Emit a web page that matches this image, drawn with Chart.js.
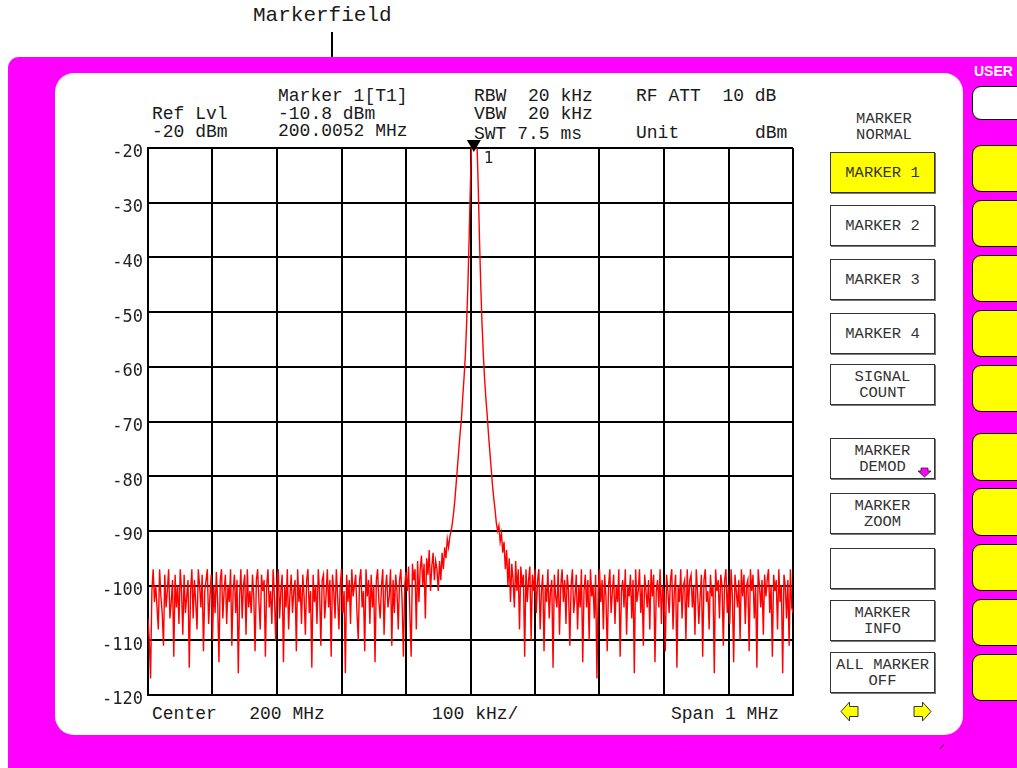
<!DOCTYPE html>
<html>
<head>
<meta charset="utf-8">
<script src="https://cdn.jsdelivr.net/npm/chart.js@4/dist/chart.umd.min.js"></script>
<style>
  html,body{margin:0;padding:0;background:#fff;}
  body{width:1017px;height:768px;position:relative;overflow:hidden;font-family:'Liberation Mono','Courier New',monospace;color:#1a1a1a;}
  .abs{position:absolute;}
  .t{position:absolute;white-space:pre;font-size:18px;line-height:20px;height:20px;}
  #frame{left:8px;top:57px;width:1040px;height:740px;background:#ff00ff;border-radius:11px;}
  #panel{left:55px;top:73px;width:908px;height:662px;background:#fff;border-radius:19px;}
  .key{position:absolute;left:972px;width:60px;background:#ffff00;border:1.5px solid #000;border-radius:9px;box-sizing:border-box;}
  .btn{position:absolute;left:830px;width:105px;border:1px solid #333;box-shadow:1px 1px 0 #777;box-sizing:border-box;background:#fff;
       font-size:15.5px;line-height:16px;text-align:center;display:flex;flex-direction:column;justify-content:center;white-space:pre;color:#333;}
  #c{position:absolute;left:0;top:0;}
</style>
</head>
<body>
<div class="t" style="left:253px;top:5px;font-size:21px;line-height:22px;height:22px;">Markerfield</div>
<div class="abs" style="left:331px;top:32px;width:1.5px;height:25px;background:#000;"></div>

<div id="frame" class="abs"></div>
<div id="panel" class="abs"></div>

<div class="abs" style="left:974px;top:62px;font-family:'Liberation Sans',Arial,sans-serif;font-weight:bold;font-size:14px;line-height:18px;color:#fff;">USER</div>
<div class="key" style="top:86px;height:34px;background:#fff;"></div>
<div class="key" style="top:145px;height:47px;"></div>
<div class="key" style="top:200px;height:47px;"></div>
<div class="key" style="top:255px;height:47px;"></div>
<div class="key" style="top:310px;height:47px;"></div>
<div class="key" style="top:365px;height:47px;"></div>
<div class="key" style="top:433px;height:48px;"></div>
<div class="key" style="top:488px;height:48px;"></div>
<div class="key" style="top:544px;height:47px;"></div>
<div class="key" style="top:599px;height:47px;"></div>
<div class="key" style="top:654px;height:47px;"></div>

<!-- header texts -->
<div class="t" style="left:152px;top:104px;">Ref Lvl</div>
<div class="t" style="left:152px;top:122px;">-20 dBm</div>
<div class="t" style="left:278px;top:86px;">Marker 1[T1]</div>
<div class="t" style="left:278px;top:104px;">-10.8 dBm</div>
<div class="t" style="left:278px;top:121px;">200.0052 MHz</div>
<div class="t" style="left:474px;top:86px;">RBW  20 kHz</div>
<div class="t" style="left:474px;top:104px;">VBW  20 kHz</div>
<div class="t" style="left:474px;top:124px;">SWT 7.5 ms</div>
<div class="t" style="left:636px;top:86px;">RF ATT  10 dB</div>
<div class="t" style="left:636px;top:123px;">Unit</div>
<div class="t" style="left:755px;top:123px;">dBm</div>

<!-- footer texts -->
<div class="t" style="left:152px;top:704px;">Center   200 MHz</div>
<div class="t" style="left:432px;top:704px;">100 kHz/</div>
<div class="t" style="left:671px;top:704px;">Span 1 MHz</div>

<!-- softkey menu -->
<div class="abs" style="left:830px;top:111px;width:108px;text-align:center;font-size:15.5px;line-height:16px;white-space:pre;color:#333;">MARKER
NORMAL</div>
<div class="btn" style="top:152px;height:41px;background:#ffff00;">MARKER 1</div>
<div class="btn" style="top:205px;height:41px;">MARKER 2</div>
<div class="btn" style="top:259px;height:41px;">MARKER 3</div>
<div class="btn" style="top:313px;height:41px;">MARKER 4</div>
<div class="btn" style="top:364px;height:41px;">SIGNAL
COUNT</div>
<div class="btn" style="top:438px;height:41px;">MARKER
DEMOD</div>
<div class="btn" style="top:493px;height:41px;">MARKER
ZOOM</div>
<div class="btn" style="top:548px;height:41px;"></div>
<div class="btn" style="top:600px;height:41px;">MARKER
INFO</div>
<div class="btn" style="top:652px;height:41px;">ALL MARKER
OFF</div>

<svg class="abs" style="left:0;top:0;" width="1017" height="768">
  <polygon points="921,468 928,468 928,471 931,471 924.5,477 918,471 921,471" fill="#ff00ff" stroke="#222" stroke-width="0.8"/>
  <polygon points="841,711.5 849.5,702 849.5,706.5 858,706.5 858,716.5 849.5,716.5 849.5,721" fill="#ffff00" stroke="#333" stroke-width="1"/>
  <polygon points="931,711.5 922.5,702 922.5,706.5 914,706.5 914,716.5 922.5,716.5 922.5,721" fill="#ffff00" stroke="#333" stroke-width="1"/>
  <path d="M939.5,748.5 Q942.5,747.5 943.5,744.5" fill="none" stroke="#222" stroke-width="1"/>
</svg>

<canvas id="c" width="1017" height="768"></canvas>

<script>
// ---- data ----
const startMHz = 199.5;
const stopMHz = 200.5;
const xTickMHz = [199.5, 199.6, 199.7, 199.8, 199.9, 200.0, 200.1, 200.2, 200.3, 200.4, 200.5];
const yTickDbm = [-120, -110, -100, -90, -80, -70, -60, -50, -40, -30, -20];
const refLevelDbm = -20;
const bottomDbm = -120;
const markerMHz = 200.0052;
const markerLabel = '1';

// trace levels (dBm), 501 sweep points from startMHz to stopMHz
const levelDbm = [
 -106,-110,-117,-101,-97,-103,-100,-104,-108,-97,-102,-105,-111,-98,-104,-101,-97,-106,-103,-99,
 -113,-98,-104,-100,-107,-97,-101,-109,-98,-105,-102,-99,-115,-101,-97,-106,-99,-103,-108,-97,
 -100,-104,-98,-112,-101,-99,-97,-107,-102,-98,-110,-100,-105,-97.5,-103,-114,-99,-97,-106,-101,
 -98,-107,-100,-103,-97,-111,-101,-98,-105,-99,-116,-102,-97,-106,-100,-98,-109,-97,-104,-101,
 -105,-98,-102,-112,-99,-97,-103,-108,-98,-101,-99,-113,-100,-97,-104,-101,-107,-97,-102,-110,
 -99,-97,-106,-101,-98,-114,-100,-104,-97,-108,-102,-98,-105,-101,-99,-112,-97,-103,-100,-107,
 -98,-102,-109,-99,-97,-105,-101,-115,-98,-103,-100,-107,-97,-101,-111,-99,-98,-106,-102,-97,
 -104,-99,-113,-98,-101,-106,-97,-102,-108,-100,-97,-105,-101,-116,-98,-103,-99,-107,-97,-102,
 -100,-98,-105,-110,-99,-97,-104,-101,-112,-97,-102,-99,-107,-98,-104,-100,-114,-99,-97,-103,
 -106,-100,-97,-109,-101,-98,-104,-102,-97,-111,-99,-105,-98,-101,-108,-99,-97,-103,-113,-100,
 -97.5,-101,-96.5,-105,-113,-96,-99,-97,-108,-95.5,-103,-97,-94.5,-100,-96,-106,-95,-98,-93.5,-101,-96.5,-94,-99,-95.5,-97,
 -101,-95.5,-99,-94,-97,-93,-95,-91.5,-93,-91,-90,-88.5,-86.5,-84,-81,-78,-75,-72,-69.5,-65.5,-62,-58,-52,-45,-36,-26,-18,-13,
 -10.8,
 -13.5,-19,-27,-37,-45.5,-52.5,-58,-62.5,-66,-69,-72.5,-75.5,-78.5,-81.5,-84,-86,-88.5,-90,-89,-92,-90.5,-94,-92,-97,-93.5,-100,-95,-103,
 -96,-99,-104,-95.5,-101,-97,-108,-96.5,-100,-98,-113,-97,-103,-99,-96.5,-110,-98,-101,-97,
 -105,-99,-97,-108,-101,-98,-112,-100,-103,-97,-106,-101,-99,-115,-98,-102,-104,-97,-109,-100,
 -97,-103,-99,-107,-98,-101,-111,-100,-97,-105,-102,-98,-108,-100,-104,-97,-114,-101,-98,-104,
 -99,-110,-97,-102,-100,-106,-98,-117,-101,-97,-103,-99,-108,-98,-102,-112,-100,-97,-105,-101,
 -98,-107,-100,-103,-97,-113,-101,-99,-104,-97,-109,-100,-102,-98,-106,-99,-116,-97,-103,-101,
 -97,-105,-100,-111,-98,-101,-104,-99,-108,-97,-102,-98,-114,-101,-99,-104,-97,-107,-100,-102,
 -112,-98,-101,-105,-99,-97,-108,-101,-98,-115,-100,-103,-97,-106,-100,-99,-110,-97,-104,-99,
 -98,-104,-100,-109,-97,-101,-107,-102,-98,-113,-99,-97,-103,-101,-108,-98,-102,-100,-116,-97,
 -101,-99,-106,-98,-100,-111,-99,-97,-105,-100,-107,-97,-102,-114,-98,-101,-104,-99,-110,-97,
 -102,-98,-107,-100,-99,-112,-97,-101,-98,-106,-100,-115,-97,-100,-104,-99,-109,-98,-102,-99,
 -97,-105,-100,-113,-98,-101,-99,-108,-97,-103,-100,-116,-98,-100,-106,-99,-111,-97,-104,-105
];

const stepMHz = (stopMHz - startMHz) / (levelDbm.length - 1);
const points = levelDbm.map((v, i) => ({ x: startMHz + i * stepMHz, y: v }));

const markerPlugin = {
  id: 'markerPlugin',
  afterDraw(chart) {
    const { ctx, chartArea } = chart;
    const px = chart.scales.x.getPixelForValue(markerMHz);
    const top = chartArea.top;
    ctx.save();
    ctx.fillStyle = '#000';
    ctx.beginPath();
    ctx.moveTo(px - 7, top - 8);
    ctx.lineTo(px + 7, top - 8);
    ctx.lineTo(px, top + 4);
    ctx.closePath();
    ctx.fill();
    ctx.fillStyle = '#222';
    ctx.font = '16px "DejaVu Sans Mono", monospace';
    ctx.textBaseline = 'middle';
    ctx.fillText(markerLabel, px + 10, top + 11);
    ctx.restore();
  }
};

new Chart(document.getElementById('c'), {
  type: 'line',
  data: {
    datasets: [{
      data: points,
      borderColor: '#ff0000',
      borderWidth: 1.4,
      pointRadius: 0,
      tension: 0,
      fill: false
    }]
  },
  options: {
    responsive: false,
    devicePixelRatio: 1,
    animation: false,
    events: [],
    layout: { padding: { left: 88, top: 148, right: 224, bottom: 73 } },
    plugins: { legend: { display: false }, tooltip: { enabled: false }, title: { display: false } },
    scales: {
      x: {
        type: 'linear',
        min: startMHz,
        max: stopMHz,
        afterBuildTicks: s => { s.ticks = xTickMHz.map(v => ({ value: v })); },
        afterFit: s => { s.height = 0; },
        ticks: { display: false },
        grid: { color: '#000', lineWidth: 2, drawTicks: false },
        border: { display: true, color: '#000', width: 2 }
      },
      y: {
        min: bottomDbm,
        max: refLevelDbm,
        afterBuildTicks: s => { s.ticks = yTickDbm.map(v => ({ value: v })); },
        afterFit: s => { s.width = 60; },
        ticks: {
          autoSkip: false,
          padding: 5,
          labelOffset: 5,
          color: '#222',
          font: { family: '"DejaVu Sans Mono", monospace', size: 17 },
          callback: v => String(v)
        },
        grid: { color: '#000', lineWidth: 2, drawTicks: false },
        border: { display: true, color: '#000', width: 2 }
      }
    }
  },
  plugins: [markerPlugin]
});
</script>
</body>
</html>
